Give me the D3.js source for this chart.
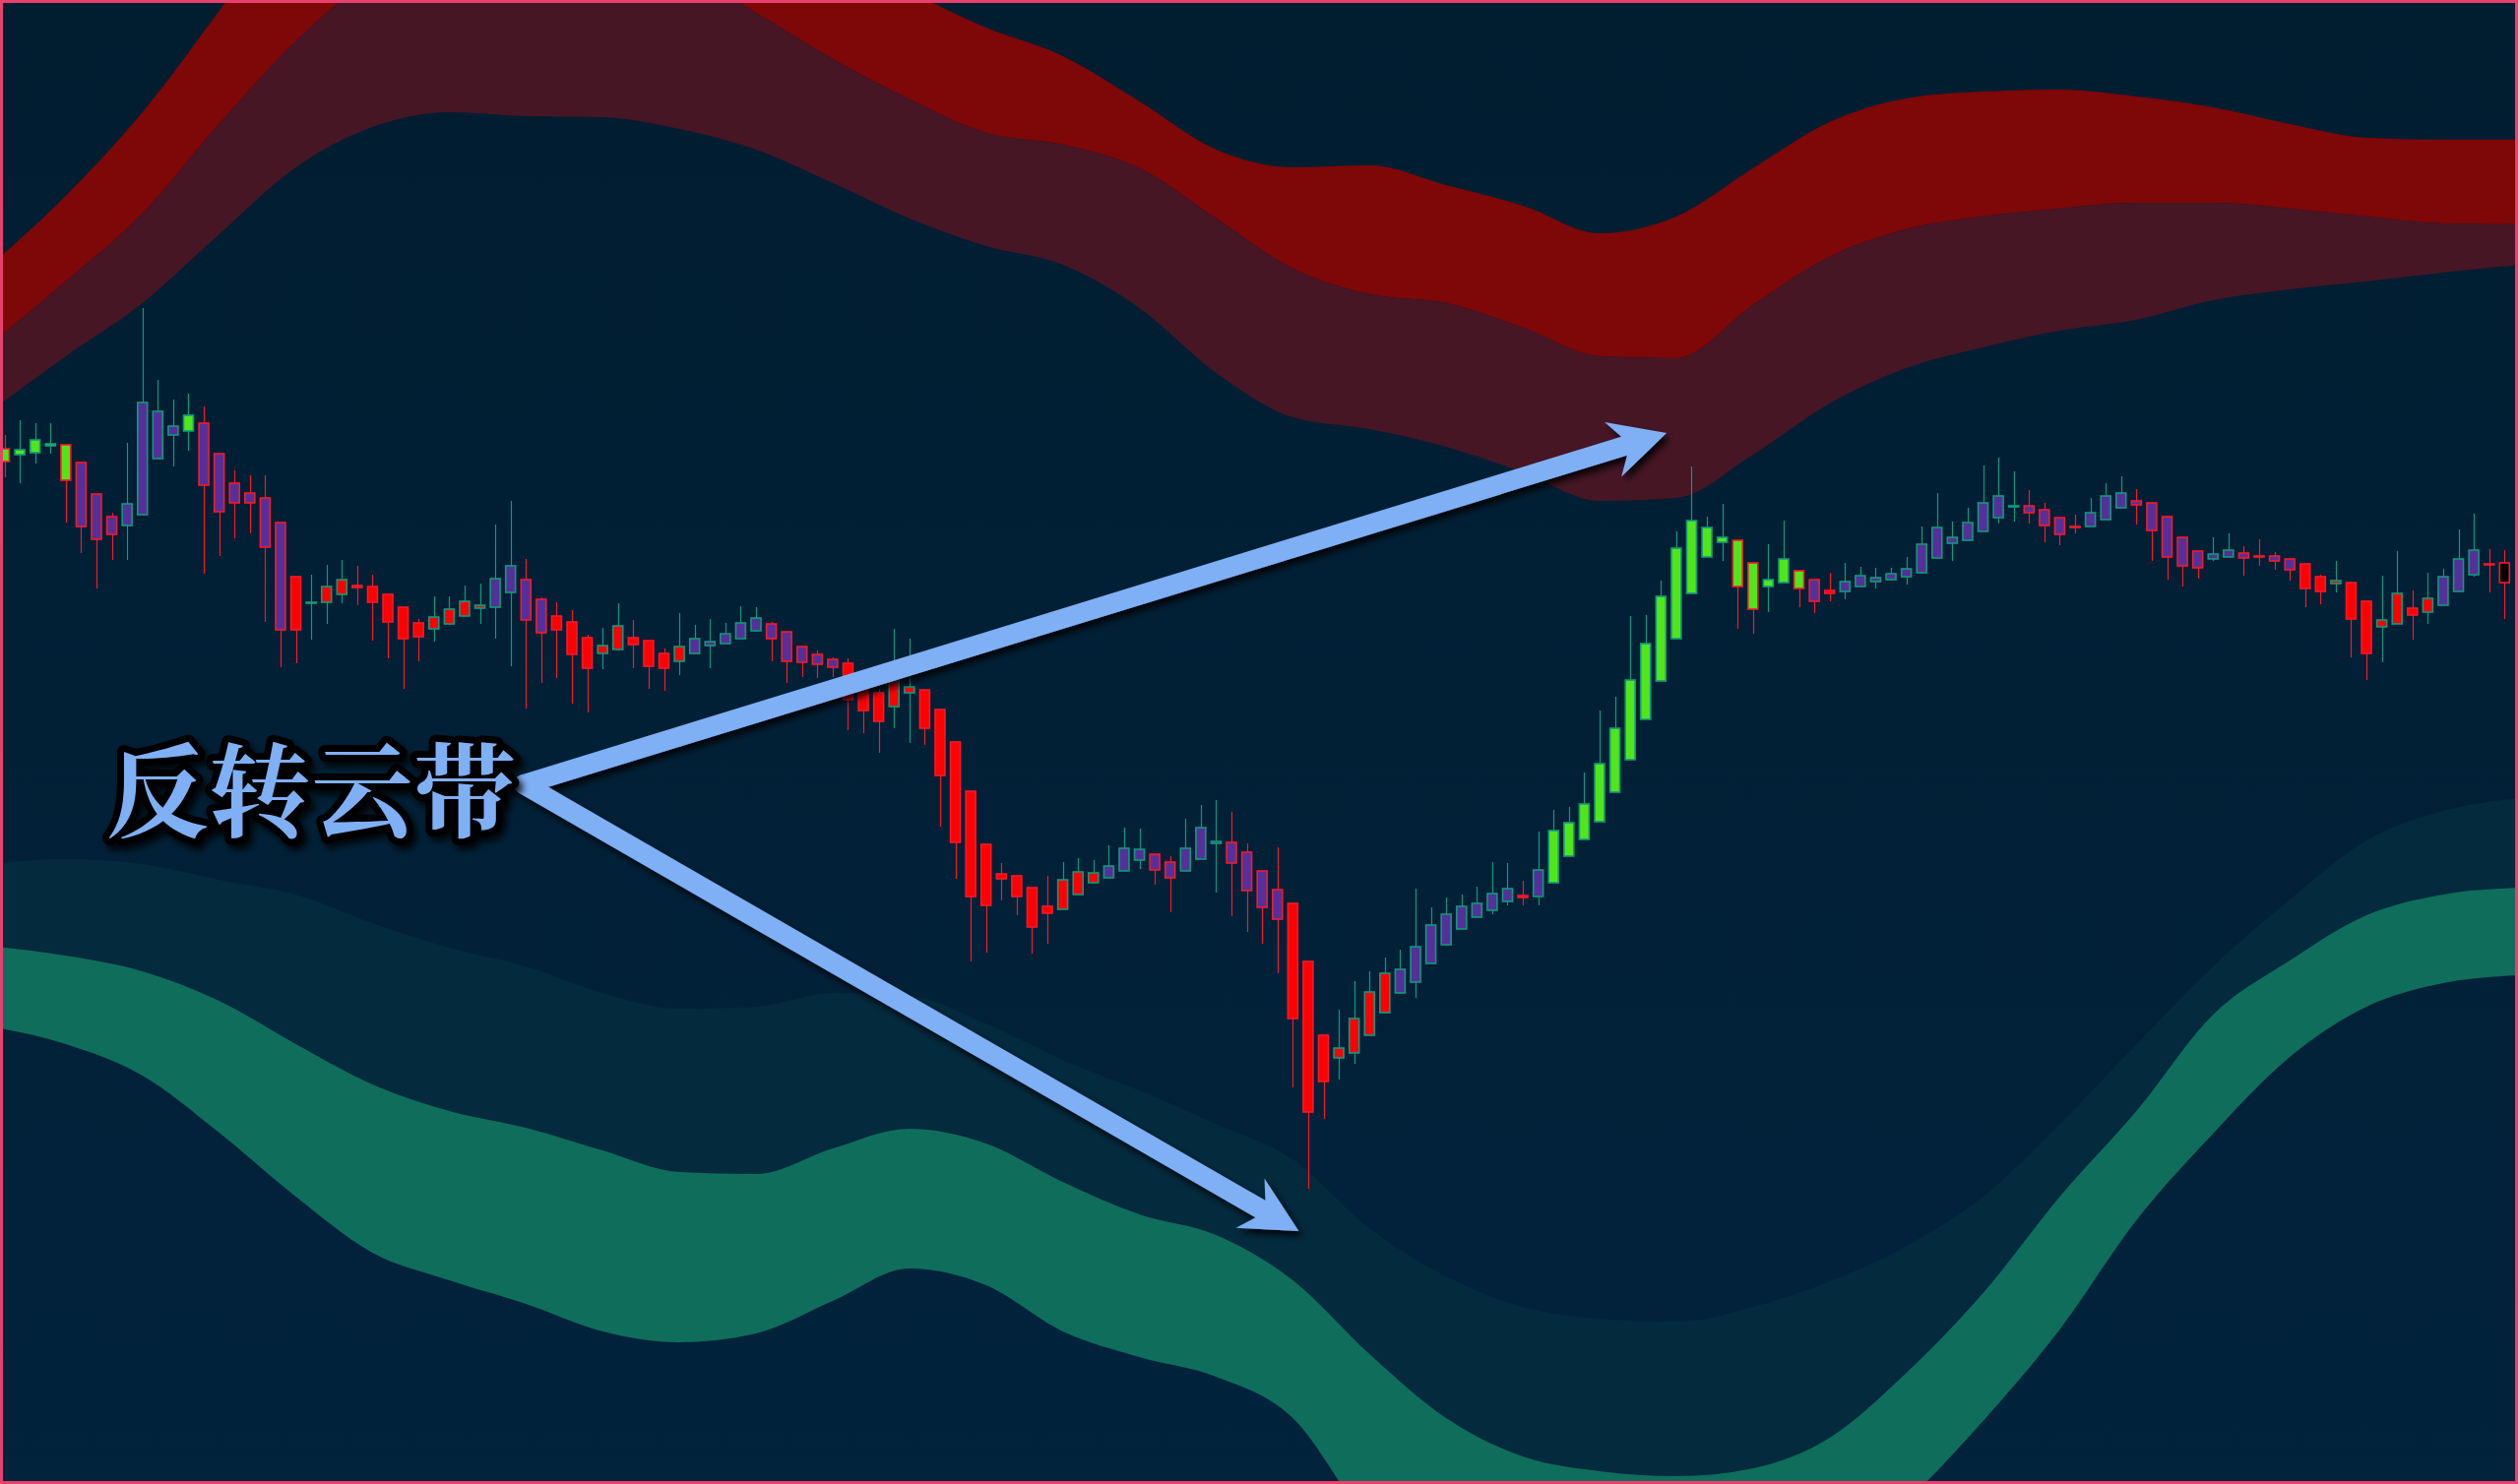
<!DOCTYPE html>
<html>
<head>
<meta charset="utf-8">
<script src="https://cdn.jsdelivr.net/npm/d3@7"></script>
<style>
html, body { margin: 0; padding: 0; background: #011f35; overflow: hidden; }
svg { display: block; }
</style>
</head>
<body>
<div class="svgContainer"></div>
<script>
// Candles, one entry per bar
var OPEN = [
    1052,1046,1048,1055,1056,1038,1006,983,974,985,
    1042,1066,1070,1078,1047,1017,1007,1002,977,922,
    895,896,904,913,912,904,891,875,869,874,
    882,890,891,906,919,899,882,876,860,844,
    848,860,857,844,836,844,852,854,859,867,
    874,866,851,843,838,834,808,804,790,804,
    807,787,754,704,650,620,618,606,587,584,
    599,611,616,623,634,640,632,623,635,651,
    652,642,623,604,590,531,456,433,438,456,
    479,499,510,529,548,564,576,583,592,598,
    597,611,638,655,673,703,736,777,816,859,
    905,942,957,959,936,912,916,928,919,908,
    907,912,917,919,922,926,941,956,959,968,
    982,993,994,990,982,973,973,980,992,999,
    997,983,962,948,940,942,946,943,943,940,
    935,922,915,916,897,871,874,890,886,893,
    907,924,935,936];
var HIGH = [
    1066,1081,1078,1078,1056,1038,1006,987,1058,1195,
    1122,1102,1108,1095,1047,1030,1025,1025,977,922,
    924,934,939,933,924,904,891,879,902,902,
    913,915,975,999,940,901,896,888,863,870,
    895,878,857,849,885,873,879,875,892,891,
    876,866,851,847,840,839,808,808,869,859,
    807,787,754,704,650,631,618,606,618,632,
    636,634,649,667,666,640,638,676,690,695,
    683,651,623,647,590,531,456,482,511,521,
    535,543,605,586,596,599,607,632,631,613,
    663,685,688,723,786,800,882,883,918,968,
    1034,983,996,959,936,955,979,929,919,926,
    936,932,931,931,942,973,1007,978,992,1035,
    1043,1029,1010,997,982,985,1002,1017,1024,1011,
    997,983,962,948,962,966,953,960,947,940,
    935,924,938,916,897,923,948,908,926,930,
    970,986,950,949];
var LOW = [
    1023,1017,1037,1047,977,946,910,939,939,985,
    1042,1034,1050,925,943,961,966,876,830,834,
    858,874,895,893,857,839,808,836,856,873,
    882,874,859,831,788,814,819,793,784,828,
    848,829,808,806,822,844,829,854,859,866,
    836,814,820,819,820,766,763,743,768,753,
    751,668,615,531,540,593,578,539,549,584,
    599,611,616,623,625,609,581,623,635,601,
    577,561,549,519,403,300,371,411,427,456,
    479,499,494,529,548,564,576,579,588,588,
    588,611,638,655,673,703,736,777,816,859,
    905,942,938,869,864,886,916,891,885,897,
    899,912,910,918,914,926,941,938,959,968,
    976,978,976,957,954,966,973,980,992,975,
    938,919,912,920,938,942,923,933,929,918,
    891,894,906,840,817,835,874,858,874,893,
    907,922,906,879];
var CLOSE = [
    1039,1051,1061,1057,1020,973,960,965,996,1099,
    1090,1075,1086,1015,988,997,997,952,868,868,
    896,912,919,911,896,876,859,861,881,889,
    897,893,920,933,878,865,868,843,829,852,
    872,853,831,829,851,859,856,864,875,880,
    859,836,835,833,830,797,786,775,816,810,
    768,720,652,597,588,615,597,566,580,614,
    622,621,628,646,645,624,616,646,667,653,
    631,603,586,574,473,378,409,443,473,500,
    519,523,546,568,579,587,590,600,605,596,
    624,664,672,691,732,768,817,854,902,951,
    979,972,962,912,889,919,940,910,897,905,
    917,923,921,925,930,955,972,962,977,997,
    1004,994,987,974,965,972,987,1004,1007,995,
    969,942,933,931,945,949,941,942,938,929,
    910,907,918,879,844,878,905,883,900,922,
    940,949,934,916];
// trend state of each bar: G = bull, R = bear, P = neutral
var TREND = ("GGGGGPPPPPPPGPPPPPPRRRRRRRRRRRRRPPPPRRRRRRRRRPPPPPPPPPP" +
    "RRRRRRRRRRRRRRRRRPPPPPPPPPPPPRRRRRRRPPPPPPPPRPGGGGGGGGGGGGGGGGG" +
    "PRPPPPPPPPPPPPPPPPPPPPPPPPPPPPPPRRRRRRRRRPPPP").split("");

// Reversal cloud bands, sampled every 5 bars
var BAND_IDX = [-1,4,9,14,19,24,29,34,39,44,49,54,59,64,69,74,79,84,89,94,99,104,109,114,119,124,129,134,139,144,149,154,159,164];
var UPPER_OUTER = [1237,1309,1394,1497,1606,1671,1704,1712,1688,1639,1590,1549,1516,1480,1451,1405,1356,1338,1340,1320,1299,1271,1288,1337,1384,1408,1415,1417,1410,1399,1382,1368,1366,1366];
var UPPER_MID = [1157,1222,1291,1382,1466,1532,1573,1590,1581,1541,1495,1448,1407,1373,1361,1337,1286,1235,1209,1200,1175,1146,1144,1198,1247,1275,1288,1296,1302,1302,1296,1288,1281,1280];
var UPPER_INNER = [1089,1146,1200,1270,1338,1379,1394,1390,1389,1377,1356,1322,1286,1258,1239,1195,1129,1084,1072,1054,1028,999,1002,1046,1098,1134,1155,1172,1183,1203,1214,1222,1231,1239];
var LOWER_INNER = [630,635,630,614,599,570,545,526,499,483,485,499,496,468,431,400,366,330,260,211,180,168,165,180,206,242,292,366,447,526,594,654,684,697];
var LOWER_MID = [547,537,521,491,447,406,379,362,339,317,315,341,361,346,307,274,253,207,132,67,28,13,8,16,47,113,194,292,379,477,532,578,599,606];
var LOWER_OUTER = [465,447,415,357,292,235,207,183,155,144,153,186,219,202,155,129,109,67,-39,-100,-124,-140,-132,-108,-83,-18,64,157,268,356,434,485,509,517];

// Annotation (bar index, price)
var LABEL = "反转云带";
var ARROW_FROM = [33.86, 711];
var ARROW_TO = [[108.37, 1068], [84.39, 257]];

var width = 2558, height = 1508;

var svg = d3.select(".svgContainer").append("svg")
    .attr("width", width)
    .attr("height", height);

var defs = svg.append("defs");
var grad = defs.append("linearGradient").attr("id", "bg")
    .attr("x1", 0).attr("y1", 0).attr("x2", 0).attr("y2", 1);
grad.append("stop").attr("offset", "0%").attr("stop-color", "#011d30");
grad.append("stop").attr("offset", "100%").attr("stop-color", "#01233c");

var shadow = defs.append("filter").attr("id", "shadow")
    .attr("x", "-20%").attr("y", "-20%").attr("width", "140%").attr("height", "140%");
shadow.append("feDropShadow")
    .attr("dx", 4).attr("dy", 5).attr("stdDeviation", 3.5)
    .attr("flood-color", "#000").attr("flood-opacity", 0.85);

svg.append("rect").attr("width", width).attr("height", height).attr("fill", "url(#bg)");

// scales
var x = d3.scaleLinear().domain([0, 163]).range([4.5, 2544.3]);
var y = d3.scaleLinear().domain([0, 1508]).range([height, 0]);

// bands
function band(hi, lo) {
    return BAND_IDX.map(function(d, k) { return {i: d, hi: hi[k], lo: lo[k]}; });
}
var area = d3.area()
    .x(function(d) { return x(d.i); })
    .y0(function(d) { return y(d.lo); })
    .y1(function(d) { return y(d.hi); })
    .curve(d3.curveMonotoneX);

var bands = [
    {data: band(UPPER_OUTER, UPPER_MID), fill: "#7e0707"},
    {data: band(UPPER_MID, UPPER_INNER), fill: "#461625"},
    {data: band(LOWER_INNER, LOWER_MID), fill: "#032a3d"},
    {data: band(LOWER_MID, LOWER_OUTER), fill: "#0e6e5b"}
];
svg.append("g").selectAll("path")
    .data(bands)
    .enter().append("path")
    .attr("d", function(d) { return area(d.data); })
    .attr("fill", function(d) { return d.fill; });

// candles
var candles = OPEN.map(function(o, i) {
    return {i: i, o: o, h: HIGH[i], l: LOW[i], c: CLOSE[i], t: TREND[i]};
});
var FILL = {G: "#50e61a", P: "#55309a", R: "#ff0000"};
var UP = "#0f9a7c", DOWN = "#f8182a";
var bodyW = (x(1) - x(0)) * 0.64;

var cg = svg.append("g");
cg.selectAll("line")
    .data(candles)
    .enter().append("line")
    .attr("x1", function(d) { return Math.round(x(d.i)) + 0.5; })
    .attr("x2", function(d) { return Math.round(x(d.i)) + 0.5; })
    .attr("y1", function(d) { return y(d.h); })
    .attr("y2", function(d) { return y(d.l); })
    .attr("stroke", function(d) { return d.c >= d.o ? UP : DOWN; })
    .attr("stroke-width", 1.2);

cg.selectAll("rect")
    .data(candles)
    .enter().append("rect")
    .attr("x", function(d) { return x(d.i) - bodyW / 2; })
    .attr("width", bodyW)
    .attr("y", function(d) { return y(Math.max(d.o, d.c)); })
    .attr("height", function(d) { return Math.max(1, Math.abs(y(d.o) - y(d.c))); })
    .attr("fill", function(d) { return FILL[d.t]; })
    .attr("stroke", function(d) { return d.c >= d.o ? UP : DOWN; })
    .attr("stroke-width", 1.6);

// annotation arrows
var ARROW_COLOR = "#7fb0f5";
var ag = svg.append("g").attr("filter", "url(#shadow)");
var s = [x(ARROW_FROM[0]), y(ARROW_FROM[1])];
ARROW_TO.forEach(function(end) {
    var t = [x(end[0]), y(end[1])];
    var dx = t[0] - s[0], dy = t[1] - s[1];
    var len = Math.sqrt(dx * dx + dy * dy);
    var u = [dx / len, dy / len], n = [-u[1], u[0]];
    function at(a, b) { return [t[0] + u[0] * a + n[0] * b, t[1] + u[1] * a + n[1] * b]; }
    ag.append("path")
        .attr("d", d3.line()([s, at(-40, 0)]))
        .attr("stroke", ARROW_COLOR)
        .attr("stroke-width", 20)
        .attr("stroke-linecap", "round")
        .attr("fill", "none");
    var head = [at(0, 0), at(-57, -29), at(-45, -10), at(-45, 10), at(-57, 29)];
    ag.append("path")
        .attr("d", d3.line()(head) + "Z")
        .attr("fill", ARROW_COLOR);
});

svg.append("text")
    .attr("x", s[0] - 8)
    .attr("y", s[1] + 46)
    .attr("text-anchor", "end")
    .attr("font-family", "'Noto Serif CJK SC', 'Noto Sans CJK SC', sans-serif")
    .attr("font-weight", 700)
    .attr("font-size", 104)
    .attr("fill", ARROW_COLOR)
    .attr("stroke", "#000")
    .attr("stroke-width", 14)
    .attr("stroke-linejoin", "round")
    .attr("paint-order", "stroke")
    .attr("filter", "url(#shadow)")
    .text(LABEL);

// frame
svg.append("rect")
    .attr("x", 1.5).attr("y", 1.5)
    .attr("width", width - 3).attr("height", height - 3)
    .attr("fill", "none")
    .attr("stroke", "#e8416f")
    .attr("stroke-width", 3);
</script>
</body>
</html>
